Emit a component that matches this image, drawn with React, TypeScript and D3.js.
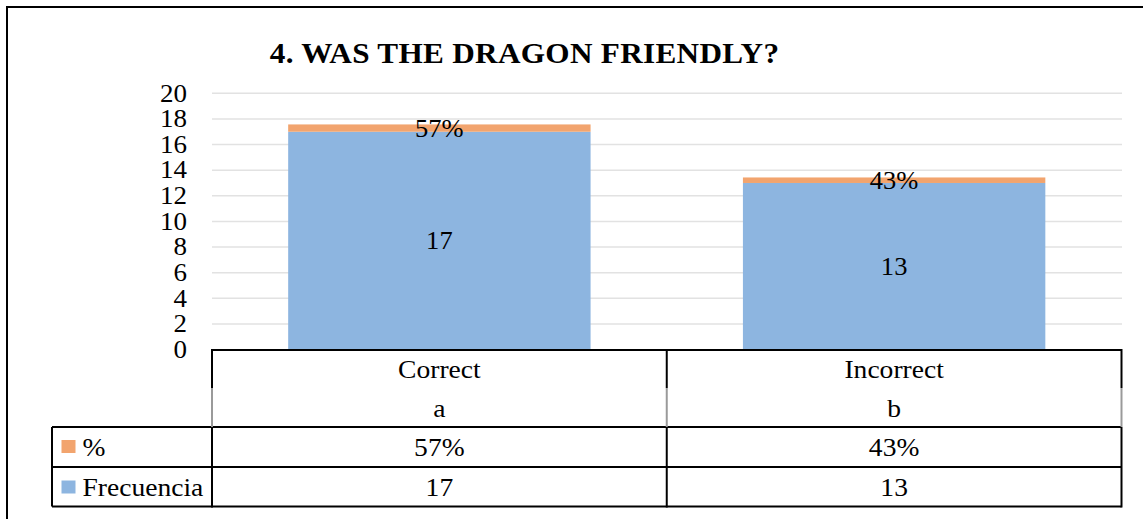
import React from "react";
import * as d3 from "d3";

const title = "4. WAS THE DRAGON FRIENDLY?";
const categories = ["Correct", "Incorrect"];
const subCategories = ["a", "b"];
const frecuencia = [17, 13];
const percent = [0.57, 0.43];
const seriesNames = ["%", "Frecuencia"];
const yTicks = [0, 2, 4, 6, 8, 10, 12, 14, 16, 18, 20];

const BLUE = "#8db5e0";
const ORANGE = "#f2a46e";
const FONT =
  '"Liberation Serif", "Times New Roman", Times, Tinos, "Nimbus Roman", FreeSerif, "Noto Serif", "DejaVu Serif", serif';

function T({ x, y, size, sx = 1.06, anchor = "middle", bold = false, ls = 0, children }: any) {
  return (
    <text
      transform={`translate(${x},${y}) scale(${sx},1)`}
      style={{ fontFamily: FONT, fontSize: `${size}px`, fontWeight: bold ? 700 : 400, letterSpacing: `${ls}px` }}
      textAnchor={anchor}
      fill="#000"
    >
      {children}
    </text>
  );
}

export default function App() {
  const W = 1143, H = 519;
  const y = d3.scaleLinear().domain([0, 20]).range([349.5, 93.3]);
  const x = d3.scaleBand<string>().domain(categories).range([212, 1121.5]).paddingInner(0).paddingOuter(0);
  const barW = x.bandwidth() * 0.665;

  const rows = categories.map((c, i) => ({ cat: c, f: frecuencia[i], p: percent[i] }));
  const stack = d3.stack<any>().keys(["f", "p"])(rows);
  const pctFmt = d3.format(".0%");

  const tableTop = 350, rowA = 427, rowB = 467, rowC = 506.5;
  const tableLeft = 52, colStart = 212, tableRight = 1121.5;
  const bounds = [colStart, ...categories.map((c) => (x(c) as number) + x.bandwidth())];

  return (
    <svg width={W} height={H} style={{ position: "absolute", left: 0, top: 0, background: "#fff" }}>
      <rect x={0} y={0} width={W} height={H} fill="#fff" />
      {/* outer frame */}
      <rect x={7} y={7} width={W + 20} height={H + 20} fill="none" stroke="#000" strokeWidth={2} />
      {/* title */}
      <T x={524.5} y={63} size={30} sx={1.04} bold ls={0.3}>{title}</T>

      {/* gridlines */}
      {yTicks.filter((t) => t > 0).map((t) => (
        <line key={t} x1={212} x2={1122} y1={y(t)} y2={y(t)} stroke="#e2e2e2" strokeWidth={1.5} />
      ))}
      {/* y tick labels */}
      {yTicks.map((t) => (
        <T key={t} x={187} y={y(t) + 8.3} size={25} sx={1.08} anchor="end">{t}</T>
      ))}

      {/* bars */}
      {stack.map((s, si) =>
        s.map((d: any, i: number) => {
          const cx = (x(rows[i].cat) as number) + x.bandwidth() / 2;
          return (
            <rect
              key={`${si}-${i}`}
              x={cx - barW / 2}
              width={barW}
              y={y(d[1])}
              height={y(d[0]) - y(d[1])}
              fill={si === 0 ? BLUE : ORANGE}
            />
          );
        })
      )}
      {/* data labels */}
      {stack.map((s, si) =>
        s.map((d: any, i: number) => {
          const cx = (x(rows[i].cat) as number) + x.bandwidth() / 2;
          const cy = y((d[0] + d[1]) / 2);
          const label = si === 0 ? String(rows[i].f) : pctFmt(rows[i].p);
          return (
            <T key={`l${si}-${i}`} x={cx} y={cy + 8.8} size={26} sx={1.02}>{label}</T>
          );
        })
      )}

      {/* data table */}
      <g stroke="#000" strokeWidth={2} fill="none">
        <line x1={colStart} x2={tableRight} y1={tableTop} y2={tableTop} />
        <line x1={tableLeft} x2={tableRight} y1={rowA} y2={rowA} />
        <line x1={tableLeft} x2={tableRight} y1={rowB} y2={rowB} />
        <line x1={tableLeft} x2={tableRight} y1={rowC} y2={rowC} />
        <line x1={tableLeft} x2={tableLeft} y1={rowA} y2={rowC} />
        {bounds.map((bx, i) => (
          <g key={i}>
            <line x1={bx} x2={bx} y1={tableTop - 1} y2={388} />
            <line x1={bx} x2={bx} y1={388} y2={rowA} stroke="#9a9a9a" />
            <line x1={bx} x2={bx} y1={rowA} y2={rowC + 1} />
          </g>
        ))}
      </g>
      {categories.map((c, i) => {
        const cx = (x(c) as number) + x.bandwidth() / 2;
        return (
          <g key={c}>
            <T x={cx} y={378} size={26}>{c}</T>
            <T x={cx} y={416.5} size={26}>{subCategories[i]}</T>
            <T x={cx} y={456} size={26}>{pctFmt(percent[i])}</T>
            <T x={cx} y={495.5} size={26}>{frecuencia[i]}</T>
          </g>
        );
      })}
      {/* legend keys */}
      <rect x={61.5} y={440} width={14} height={13} fill={ORANGE} />
      <T x={82.5} y={456} size={26} anchor="start">{seriesNames[0]}</T>
      <rect x={61.5} y={480.5} width={14} height={13} fill={BLUE} />
      <T x={82.5} y={495.5} size={26} anchor="start">{seriesNames[1]}</T>
    </svg>
  );
}
